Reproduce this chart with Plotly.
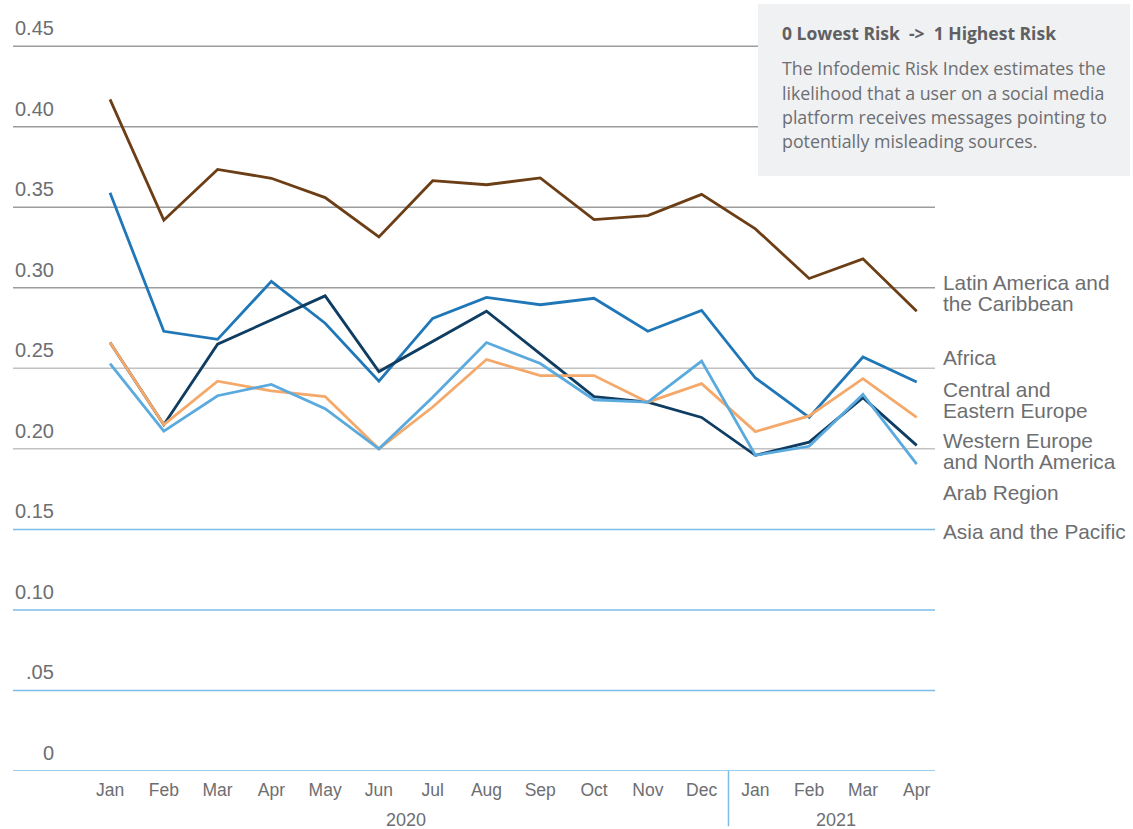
import plotly.graph_objects as go

months = ["Jan", "Feb", "Mar", "Apr", "May", "Jun", "Jul", "Aug", "Sep", "Oct", "Nov", "Dec",
          "Jan", "Feb", "Mar", "Apr"]
years = ["2020", "2021"]

latin_america = [0.417, 0.342, 0.3735, 0.368, 0.356, 0.3316, 0.3665, 0.364, 0.3682, 0.3423, 0.3448, 0.358,
                 0.3366, 0.3058, 0.318, 0.2855]
africa = [0.359, 0.273, 0.268, 0.304, 0.278, 0.242, 0.281, 0.294, 0.2895, 0.2935, 0.273, 0.286,
          0.244, 0.2195, 0.257, 0.2415]
central_eastern_europe = [0.266, 0.215, 0.242, 0.236, 0.2325, 0.200, 0.226, 0.2555, 0.2455, 0.2455, 0.229, 0.2405,
                          0.2107, 0.2205, 0.2436, 0.2195]
western_europe_na = [0.266, 0.215, 0.265, 0.280, 0.295, 0.248, 0.267, 0.2855, 0.259, 0.2325, 0.229, 0.2195,
                     0.196, 0.2042, 0.2318, 0.2022]
arab_region = [0.253, 0.211, 0.233, 0.240, 0.225, 0.200, 0.232, 0.266, 0.253, 0.2305, 0.229, 0.2545,
               0.196, 0.2016, 0.2338, 0.1905]

series_names = ["Latin America and the Caribbean", "Africa", "Central and Eastern Europe",
                "Western Europe and North America", "Arab Region"]
label_lines = [["Latin America and", "the Caribbean"], ["Africa"], ["Central and", "Eastern Europe"],
               ["Western Europe", "and North America"], ["Arab Region"], ["Asia and the Pacific"]]

y_ticks = [0.45, 0.40, 0.35, 0.30, 0.25, 0.20, 0.15, 0.10, 0.05, 0.0]
y_ticktext = ["0.45", "0.40", "0.35", "0.30", "0.25", "0.20", "0.15", "0.10", ".05", "0"]

note_title = "0 Lowest Risk  ->  1 Highest Risk"
note_lines = ["The Infodemic Risk Index estimates the",
              "likelihood that a user on a social media",
              "platform receives messages pointing to",
              "potentially misleading sources."]

colors = {
    "Latin America and the Caribbean": "#6b3e16",
    "Africa": "#1f77b8",
    "Central and Eastern Europe": "#f4a96b",
    "Western Europe and North America": "#0f3d62",
    "Arab Region": "#5aaade",
}
data_map = {
    "Latin America and the Caribbean": latin_america,
    "Africa": africa,
    "Central and Eastern Europe": central_eastern_europe,
    "Western Europe and North America": western_europe_na,
    "Arab Region": arab_region,
}

TEXT = "#6d6e71"
SANS = "Liberation Sans, Arial, sans-serif"

x = list(range(len(months)))
fig = go.Figure()
for name in ["Latin America and the Caribbean", "Africa", "Western Europe and North America",
             "Central and Eastern Europe", "Arab Region"]:
    fig.add_trace(go.Scatter(x=x, y=data_map[name], mode="lines", name=name,
                             line=dict(color=colors[name], width=2.8), showlegend=False,
                             hoverinfo="x+y+name"))

shapes = []
annotations = []
# gridlines + y labels
for v, t in zip(y_ticks, y_ticktext):
    if v >= 0.30:
        c = "#9c9c9c"
    elif v >= 0.20:
        c = "#c2c2c2"
    else:
        c = "#7dbce6"
    shapes.append(dict(type="line", xref="paper", yref="y", x0=0, x1=1, y0=v, y1=v,
                       line=dict(color=c, width=1.5), layer="below"))
    annotations.append(dict(xref="paper", yref="y", x=0.0466, y=v, text=t, showarrow=False,
                            xanchor="right", yanchor="middle", yshift=18,
                            font=dict(family=SANS, size=20, color=TEXT)))

# separator between years
shapes.append(dict(type="line", xref="x", yref="paper", x0=11.5, x1=11.5, y0=0, y1=-0.073,
                   line=dict(color="#7dbce6", width=1.5)))

# note box
shapes.append(dict(type="rect", xref="paper", yref="paper", x0=0.808, x1=1.2115, y0=0.786, y1=1.0132,
                   fillcolor="#f0f1f3", line=dict(width=0), layer="above"))

# year labels
for cx, yr in zip([5.5, 13.5], years):
    annotations.append(dict(xref="x", yref="paper", x=cx, y=-0.0647, text=yr, showarrow=False,
                            xanchor="center", yanchor="middle",
                            font=dict(family=SANS, size=18, color=TEXT)))

# right-side series labels (stacked list)
label_centers = [0.2968, 0.257, 0.2303, 0.1987, 0.1732, 0.149]
for lines, cy in zip(label_lines, label_centers):
    n = len(lines)
    for i, ln in enumerate(lines):
        off = (i - (n - 1) / 2) * 21
        annotations.append(dict(xref="paper", yref="y", x=1.0065, y=cy, text=ln, showarrow=False,
                                xanchor="left", yanchor="middle", yshift=-off,
                                font=dict(family=SANS, size=20.8, color=TEXT)))

# note text
annotations.append(dict(xref="paper", yref="paper", x=0.8319, y=(771 - 33) / 757, text="<b>" + note_title + "</b>",
                        showarrow=False, xanchor="left", yanchor="middle",
                        font=dict(family="Open Sans, sans-serif", size=17.5, color="#5f6062")))
for i, ln in enumerate(note_lines):
    py = 68 + i * 24.5
    annotations.append(dict(xref="paper", yref="paper", x=0.8319, y=(771 - py) / 757, text=ln,
                            showarrow=False, xanchor="left", yanchor="middle",
                            font=dict(family="Open Sans, sans-serif", size=17.8, color=TEXT)))

fig.update_layout(
    width=1133, height=829,
    margin=dict(l=13, r=198, t=14, b=58),
    paper_bgcolor="white", plot_bgcolor="white",
    xaxis=dict(range=[-1.804, 15.34], tickvals=x, ticktext=months, showgrid=False, zeroline=False,
               showline=False, ticks="", ticklabelstandoff=6,
               tickfont=dict(family=SANS, size=17.5, color=TEXT), fixedrange=True),
    yaxis=dict(range=[0, 0.47], showgrid=False, zeroline=False, showticklabels=False, showline=False,
               fixedrange=True),
    shapes=shapes,
    annotations=annotations,
    showlegend=False,
)

fig.write_html("out.html", config={"displayModeBar": False},
               post_script="document.body.style.margin='0';document.body.style.overflow='hidden';")
